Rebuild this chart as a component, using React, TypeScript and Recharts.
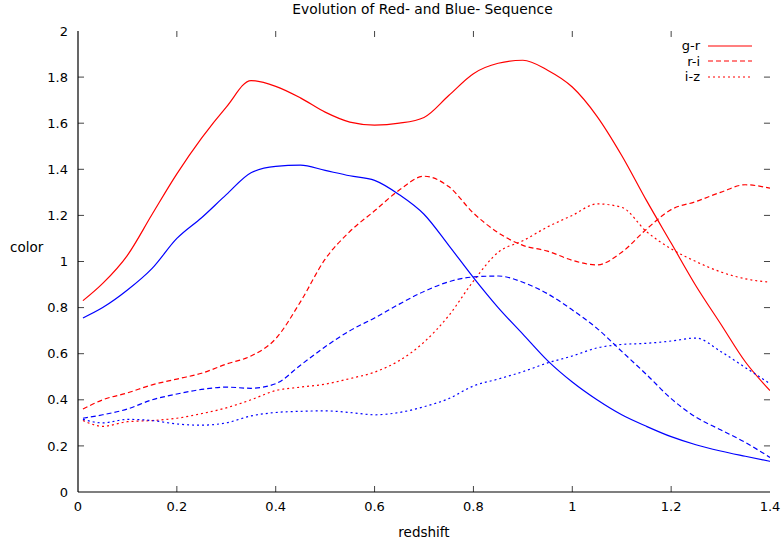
import React from 'react';
import { LineChart, Line, XAxis, YAxis, Legend, ReferenceLine } from 'recharts';

const redshift = [0.01, 0.05, 0.1, 0.15, 0.2, 0.25, 0.3, 0.35, 0.4, 0.45, 0.5, 0.55, 0.6, 0.65, 0.7, 0.75, 0.8, 0.85, 0.9, 0.95, 1.0, 1.05, 1.1, 1.15, 1.2, 1.25, 1.3, 1.35, 1.4];

const redGR = [0.83, 0.905, 1.027, 1.205, 1.38, 1.535, 1.67, 1.785, 1.76, 1.71, 1.648, 1.605, 1.592, 1.6, 1.625, 1.72, 1.815, 1.86, 1.873, 1.83, 1.757, 1.63, 1.46, 1.265, 1.08, 0.895, 0.73, 0.565, 0.44];
const redRI = [0.36, 0.4, 0.43, 0.465, 0.49, 0.515, 0.555, 0.59, 0.665, 0.825, 1.01, 1.13, 1.22, 1.31, 1.37, 1.325, 1.21, 1.125, 1.07, 1.045, 1.005, 0.985, 1.04, 1.14, 1.225, 1.26, 1.3, 1.333, 1.318];
const redIZ = [0.31, 0.285, 0.305, 0.31, 0.32, 0.34, 0.365, 0.4, 0.44, 0.455, 0.468, 0.492, 0.52, 0.57, 0.65, 0.765, 0.915, 1.04, 1.09, 1.15, 1.2, 1.25, 1.235, 1.13, 1.055, 1.0, 0.955, 0.925, 0.91];

const blueGR = [0.755, 0.8, 0.876, 0.97, 1.1, 1.19, 1.29, 1.385, 1.413, 1.418, 1.395, 1.372, 1.352, 1.29, 1.205, 1.07, 0.93, 0.8, 0.685, 0.57, 0.477, 0.4, 0.335, 0.285, 0.24, 0.205, 0.178, 0.155, 0.133];
const blueRI = [0.32, 0.335, 0.36, 0.4, 0.425, 0.445, 0.455, 0.45, 0.47, 0.55, 0.63, 0.7, 0.755, 0.815, 0.87, 0.912, 0.933, 0.937, 0.91, 0.86, 0.79, 0.71, 0.61, 0.51, 0.405, 0.325, 0.27, 0.215, 0.15];
const blueIZ = [0.315, 0.3, 0.315, 0.31, 0.295, 0.29, 0.3, 0.33, 0.345, 0.35, 0.352, 0.345, 0.335, 0.345, 0.37, 0.405, 0.46, 0.49, 0.522, 0.56, 0.59, 0.625, 0.64, 0.645, 0.655, 0.668, 0.61, 0.54, 0.47];

const xTicks = [0, 0.2, 0.4, 0.6, 0.8, 1, 1.2, 1.4];
const yTicks = [0, 0.2, 0.4, 0.6, 0.8, 1, 1.2, 1.4, 1.6, 1.8, 2];

const legendNames = ['g-r', 'r-i', 'i-z'];
const titleText = 'Evolution of Red- and Blue- Sequence';
const xLabelText = 'redshift';
const yLabelText = 'color';

const RED = '#ff0000';
const BLUE = '#0000ff';
const DASH_RI = '5 3';
const DASH_IZ = '2 3';
const FONT = "'DejaVu Sans', sans-serif";
const TICK_COLOR = '#444';

const X_MIN = 0;
const X_MAX = 1.4;
const Y_MIN = 0;
const Y_MAX = 2;
// inward tick length expressed in axis units (~6px)
const X_TICK_UNITS = 0.0122;
const Y_TICK_UNITS = 0.026;

const data = redshift.map((z, i) => ({
  z,
  rgr: redGR[i],
  rri: redRI[i],
  riz: redIZ[i],
  bgr: blueGR[i],
  bri: blueRI[i],
  biz: blueIZ[i],
}));

const dashFor: Record<string, string | undefined> = {
  'g-r': undefined,
  'r-i': DASH_RI,
  'i-z': DASH_IZ,
};

function LegendContent(props: any) {
  const items = (props.payload || [])
    .filter((p: any) => legendNames.includes(p.value))
    .sort((a: any, b: any) => legendNames.indexOf(a.value) - legendNames.indexOf(b.value));
  return (
    <div style={{ fontFamily: FONT, fontSize: 13 }}>
      {items.map((p: any) => (
        <div key={p.value} style={{ display: 'flex', alignItems: 'center', height: 15.5 }}>
          <span style={{ width: 60, textAlign: 'right', lineHeight: '15px' }}>{p.value}</span>
          <svg width={52} height={10} style={{ marginLeft: 8 }}>
            <line x1={0} y1={5} x2={44} y2={5} stroke={RED} strokeWidth={1.2} strokeDasharray={dashFor[p.value]} />
          </svg>
        </div>
      ))}
    </div>
  );
}

const axisTick = { fontFamily: FONT, fontSize: 13, fill: '#000' };

export default function App() {
  const tickMarks: React.ReactNode[] = [];
  xTicks.forEach((t, i) => {
    if (t > X_MIN && t < X_MAX) {
      tickMarks.push(
        <ReferenceLine key={`xb${i}`} xAxisId="b" yAxisId="l" segment={[{ x: t, y: Y_MIN }, { x: t, y: Y_MIN + Y_TICK_UNITS }]} stroke={TICK_COLOR} strokeWidth={1} ifOverflow="visible" />,
        <ReferenceLine key={`xt${i}`} xAxisId="b" yAxisId="l" segment={[{ x: t, y: Y_MAX }, { x: t, y: Y_MAX - Y_TICK_UNITS }]} stroke={TICK_COLOR} strokeWidth={1} ifOverflow="visible" />
      );
    }
  });
  yTicks.forEach((t, i) => {
    if (t > Y_MIN && t < Y_MAX) {
      tickMarks.push(
        <ReferenceLine key={`yl${i}`} xAxisId="b" yAxisId="l" segment={[{ x: X_MIN, y: t }, { x: X_MIN + X_TICK_UNITS, y: t }]} stroke={TICK_COLOR} strokeWidth={1} ifOverflow="visible" />,
        <ReferenceLine key={`yr${i}`} xAxisId="b" yAxisId="l" segment={[{ x: X_MAX, y: t }, { x: X_MAX - X_TICK_UNITS, y: t }]} stroke={TICK_COLOR} strokeWidth={1} ifOverflow="visible" />
      );
    }
  });

  return (
    <div style={{ position: 'absolute', left: 0, top: 0, width: 784, height: 545, background: '#fff' }}>
      <div
        style={{
          position: 'absolute',
          left: 0,
          top: 2,
          width: 845,
          textAlign: 'center',
          fontFamily: FONT,
          fontSize: 13.8,
          lineHeight: '15px',
          color: '#000',
          zIndex: 2,
        }}
      >
        {titleText}
      </div>
      <LineChart width={784} height={545} data={data} margin={{ top: 31, right: 14, bottom: 0, left: 0 }}>
        <XAxis
          xAxisId="b"
          dataKey="z"
          type="number"
          domain={[X_MIN, X_MAX]}
          ticks={xTicks}
          height={53}
          tickSize={0}
          tickMargin={10}
          tick={axisTick}
          tickLine={false}
          axisLine={{ stroke: '#000', strokeWidth: 1.2 }}
          allowDataOverflow
          label={{
            content: (p: any) => {
              const vb = p.viewBox;
              return (
                <text x={vb.x + vb.width / 2} y={vb.y + 45} textAnchor="middle" fontFamily={FONT} fontSize={13.5} fill="#000">
                  {xLabelText}
                </text>
              );
            },
          }}
        />
        <XAxis
          xAxisId="t"
          dataKey="z"
          type="number"
          orientation="top"
          domain={[X_MIN, X_MAX]}
          ticks={xTicks}
          height={0}
          tick={false}
          tickLine={false}
          axisLine={{ stroke: '#000', strokeWidth: 1.2 }}
          allowDataOverflow
        />
        <YAxis
          yAxisId="l"
          type="number"
          domain={[Y_MIN, Y_MAX]}
          ticks={yTicks}
          width={78}
          tickSize={0}
          tickMargin={10}
          tick={axisTick}
          tickLine={false}
          axisLine={{ stroke: '#000', strokeWidth: 1.2 }}
          allowDataOverflow
          label={{
            content: (p: any) => {
              const vb = p.viewBox;
              return (
                <text x={10} y={vb.y + vb.height / 2 - 10} fontFamily={FONT} fontSize={13.5} fill="#000">
                  {yLabelText}
                </text>
              );
            },
          }}
        />
        <YAxis
          yAxisId="r"
          type="number"
          orientation="right"
          domain={[Y_MIN, Y_MAX]}
          ticks={yTicks}
          width={0}
          tick={false}
          tickLine={false}
          axisLine={{ stroke: '#000', strokeWidth: 1.2 }}
          allowDataOverflow
        />
        {tickMarks}
        <Legend
          layout="vertical"
          align="center"
          verticalAlign="middle"
          content={LegendContent}
          wrapperStyle={{ left: 640, top: 38, width: 120 }}
        />
        <Line xAxisId="b" yAxisId="l" name="g-r" dataKey="rgr" type="monotone" stroke={RED} strokeWidth={1.2} dot={false} isAnimationActive={false} />
        <Line xAxisId="b" yAxisId="l" name="r-i" dataKey="rri" type="monotone" stroke={RED} strokeWidth={1.2} strokeDasharray={DASH_RI} dot={false} isAnimationActive={false} />
        <Line xAxisId="b" yAxisId="l" name="i-z" dataKey="riz" type="monotone" stroke={RED} strokeWidth={1.2} strokeDasharray={DASH_IZ} dot={false} isAnimationActive={false} />
        <Line xAxisId="b" yAxisId="l" name="blue g-r" dataKey="bgr" type="monotone" stroke={BLUE} strokeWidth={1.2} dot={false} legendType="none" isAnimationActive={false} />
        <Line xAxisId="b" yAxisId="l" name="blue r-i" dataKey="bri" type="monotone" stroke={BLUE} strokeWidth={1.2} strokeDasharray={DASH_RI} dot={false} legendType="none" isAnimationActive={false} />
        <Line xAxisId="b" yAxisId="l" name="blue i-z" dataKey="biz" type="monotone" stroke={BLUE} strokeWidth={1.2} strokeDasharray={DASH_IZ} dot={false} legendType="none" isAnimationActive={false} />
      </LineChart>
    </div>
  );
}
